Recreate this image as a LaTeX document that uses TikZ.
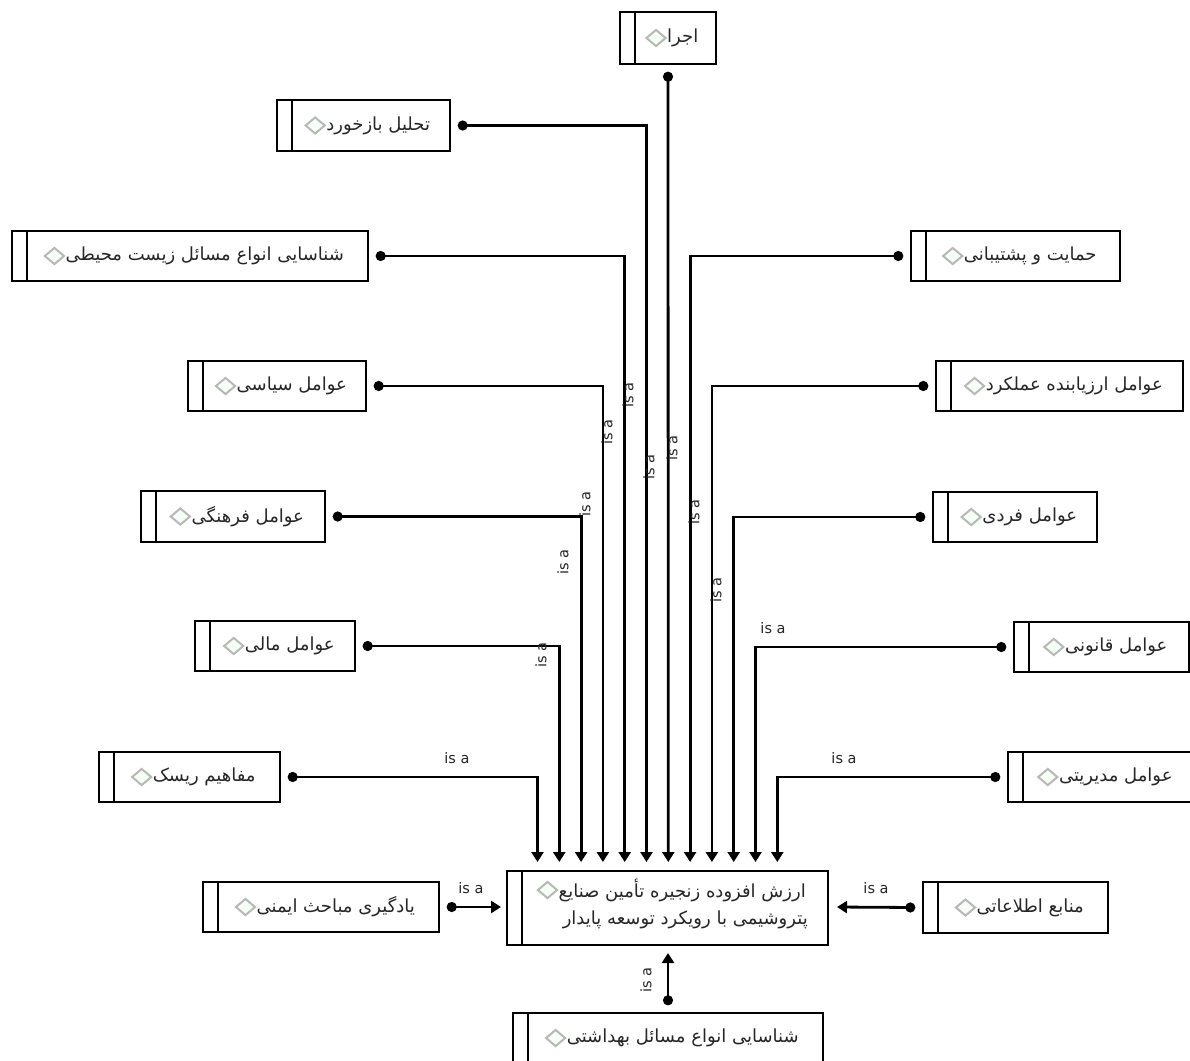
\documentclass[tikz,border=0pt]{standalone}
\usepackage{fontspec}
\setmainfont{DejaVu Sans}
\newfontfamily\arabicfont[Script=Arabic]{DejaVu Sans}
\TeXXeTstate=1
\usetikzlibrary{arrows.meta,positioning,shapes.geometric}

\tikzset{
 box/.style={draw=black, line width=1.4pt, fill=white, inner sep=0pt, rectangle},
 stripline/.style={line width=1.4pt},
 ptxt/.style={inner sep=0pt, font=\fontsize{18}{20}\arabicfont, text=black!85},
 dmd/.style={diamond, draw=black!28, line width=2pt, fill=green!4!white, inner sep=0pt, minimum width=20pt, minimum height=17pt},
 conn/.style={line width=2.8pt, {Circle[length=10pt]}-{Triangle[length=10pt,width=12pt]}},
 lbl/.style={font=\fontsize{14.5}{16}\selectfont, inner sep=1pt, text=black!85},
}

\newcommand\mkbox[6]{%
  \node[box, minimum width={#4-#2}, minimum height={#5-#3}] (#1) at ({(#2+#4)/2},{(#3+#5)/2}) {};
  \draw[stripline] ([xshift=15.5pt]#1.north west) -- ([xshift=15.5pt]#1.south west);
  \node[ptxt] (#1-t) at ({(#2+15.5+#4)/2+7},{(#3+#5)/2}) {#6};
  \node[dmd, left=0pt of #1-t] (#1-d) {};
}

\begin{document}
\begin{tikzpicture}[x=1pt,y=-1pt]
\fill[white] (0,0) rectangle (1190,1060);
\useasboundingbox (0,0) rectangle (1190,1060);

% boxes
\mkbox{ejra}{620}{12}{716}{64}{\beginR اجرا\endR}
\mkbox{tahlil}{277}{100}{450}{151}{\beginR تحلیل بازخورد\endR}
\mkbox{zist}{12}{231}{368}{281}{\beginR شناسایی انواع مسائل زیست محیطی\endR}
\mkbox{himayat}{911}{231}{1120}{281}{\beginR حمایت و پشتیبانی\endR}
\mkbox{siasi}{188}{361}{366}{411}{\beginR عوامل سیاسی\endR}
\mkbox{arzyab}{936}{361}{1183}{411}{\beginR عوامل ارزیابنده عملکرد\endR}
\mkbox{farhangi}{141}{491}{325}{542}{\beginR عوامل فرهنگی\endR}
\mkbox{fardi}{933}{492}{1097}{542}{\beginR عوامل فردی\endR}
\mkbox{mali}{195}{621}{355}{671}{\beginR عوامل مالی\endR}
\mkbox{ghanooni}{1014}{622}{1189}{672}{\beginR عوامل قانونی\endR}
\mkbox{risk}{99}{752}{280}{802}{\beginR مفاهیم ریسک\endR}
\mkbox{modiriati}{1008}{752}{1194}{802}{\beginR عوامل مدیریتی\endR}
\mkbox{yadgiri}{203}{882}{439}{932}{\beginR یادگیری مباحث ایمنی\endR}
\mkbox{manabe}{923}{882}{1108}{933}{\beginR منابع اطلاعاتی\endR}
\mkbox{behdashti}{513}{1013}{823}{1063}{\beginR شناسایی انواع مسائل بهداشتی\endR}

% central box
\node[box, minimum width=321, minimum height=74] (center) at (667.5,908) {};
\draw[stripline] ([xshift=15.5pt]center.north west) -- ([xshift=15.5pt]center.south west);
\node[ptxt, anchor=east] (center-t1) at (806,890) {\beginR ارزش افزوده زنجیره تأمین صنایع\endR};
\node[ptxt, anchor=east] (center-t2) at (808,920) {\beginR پتروشیمی با رویکرد توسعه پایدار\endR};
\node[dmd, left=0pt of center-t1] (center-d) {};

% arrow end points
\foreach \i in {0,...,11} \coordinate (c\i) at ({537.5+21.8*\i},862);
\coordinate (cl) at (501,907);
\coordinate (cr) at (837,907);
\coordinate (cb) at (668,953);

% connectors
\draw[conn] ([yshift=-7pt]ejra.south) -- (c6);
\draw[conn] ([xshift=7pt]tahlil.east) -| (c5);
\draw[conn] ([xshift=7pt]zist.east) -| (c4);
\draw[conn] ([xshift=7pt]siasi.east) -| (c3);
\draw[conn] ([xshift=7pt]farhangi.east) -| (c2);
\draw[conn] ([xshift=7pt]mali.east) -| (c1);
\draw[conn] ([xshift=7pt]risk.east) -| (c0);
\draw[conn] ([xshift=-7pt]himayat.west) -| (c7);
\draw[conn] ([xshift=-7pt]arzyab.west) -| (c8);
\draw[conn] ([xshift=-7pt]fardi.west) -| (c9);
\draw[conn] ([xshift=-7pt]ghanooni.west) -| (c10);
\draw[conn] ([xshift=-7pt]modiriati.west) -| (c11);
\draw[conn] ([xshift=7pt]yadgiri.east) -- (cl);
\draw[conn] ([xshift=-7pt]manabe.west) -- (cr);
\draw[conn] ([yshift=7pt]behdashti.north) -- (cb);

% labels
\node[lbl, rotate=90] (l1) at (628,395) {is a};
\node[lbl, rotate=90] (l2) at (607,432) {is a};
\node[lbl, rotate=90] (l3) at (585,504) {is a};
\node[lbl, rotate=90] (l4) at (563,562) {is a};
\node[lbl, rotate=90] (l5) at (541,655) {is a};
\node[lbl, rotate=90] (l6) at (649,467) {is a};
\node[lbl, rotate=90] (l7) at (672,448) {is a};
\node[lbl, rotate=90] (l8) at (694,512) {is a};
\node[lbl, rotate=90] (l9) at (716,590) {is a};
\node[lbl, rotate=90] (l10) at (646,980) {is a};
\node[lbl] (l11) at (773,628) {is a};
\node[lbl] (l12) at (844,758) {is a};
\node[lbl] (l13) at (457,758) {is a};
\node[lbl] (l14) at (471,888) {is a};
\node[lbl] (l15) at (876,888) {is a};
\end{tikzpicture}
\end{document}
